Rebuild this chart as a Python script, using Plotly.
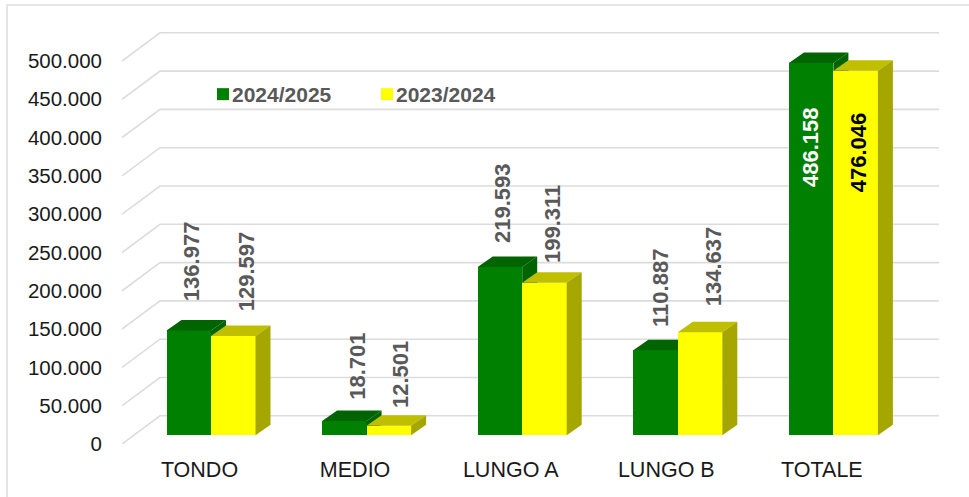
import plotly.graph_objects as go

categories = ["TONDO", "MEDIO", "LUNGO A", "LUNGO B", "TOTALE"]
series_a_name = "2024/2025"
series_b_name = "2023/2024"
series_a = [136977, 18701, 219593, 110887, 486158]
series_b = [129597, 12501, 199311, 134637, 476046]
y_ticks = [0, 50000, 100000, 150000, 200000, 250000, 300000, 350000, 400000, 450000, 500000]
y_tick_labels = ["0", "50.000", "100.000", "150.000", "200.000", "250.000",
                 "300.000", "350.000", "400.000", "450.000", "500.000"]

# label nudges in pixels
a_dx = [3, 13, 2, 5, 0]
a_dy = [28, 20, 23, 22, -125]
b_dx = [13, 11, 8, 13, 3]
b_dy = [24, 17, 19, 25, -123]

W, H = 969, 497
L, R, T, B = 122, 945, 25, 444      # plot area in px
CX0, CSTEP = 211.0, 155.6           # px of first group centre, px per category
UNITS_PER_PX = 500000 / 383.0
BAR_W = 44.5 / CSTEP
DX = 15 / CSTEP                     # bar depth
DY = 10.5 * UNITS_PER_PX
WALL_X0 = (L - CX0) / CSTEP
WALL_X1 = (160 - CX0) / CSTEP
WALL_X2 = (939 - CX0) / CSTEP
WALL_DY = 28.2 * UNITS_PER_PX
FLOOR = 8.7 * UNITS_PER_PX          # bar base sits above front floor edge

xr = [(L - CX0) / CSTEP, (R - CX0) / CSTEP]
span = (B - T) * UNITS_PER_PX
y1r = [0, span]
y2r = [-FLOOR, span - FLOOR]
idx = list(range(len(categories)))


def faces(vals, left):
    """polygons of top and side faces for one series"""
    tx, ty, sx, sy = [], [], [], []
    for i, v in zip(idx, vals):
        x0 = i - BAR_W if left else i
        x1 = x0 + BAR_W
        tx += [x0, x0 + DX, x1 + DX, x1, x0, None]
        ty += [v, v + DY, v + DY, v, v, None]
        sx += [x1, x1 + DX, x1 + DX, x1, x1, None]
        sy += [0, DY, v + DY, v, 0, None]
    return tx, ty, sx, sy


def poly(x, y, color, yaxis):
    return go.Scatter(x=x, y=y, mode="lines", fill="toself", fillcolor=color,
                      line=dict(width=0, color=color), yaxis=yaxis,
                      hoverinfo="skip", showlegend=False)


fig = go.Figure()

# wall grid lines
gx, gy = [], []
for v in y_ticks:
    gx += [WALL_X0, WALL_X1, WALL_X2, None]
    gy += [v, v + WALL_DY, v + WALL_DY, None]
fig.add_trace(go.Scatter(x=gx, y=gy, mode="lines", line=dict(color="#DCDCDC", width=1.6),
                         hoverinfo="skip", showlegend=False, yaxis="y"))

# green series
tx, ty, sx, sy = faces(series_a, True)
fig.add_trace(go.Bar(x=idx, y=series_a, width=BAR_W, offset=-BAR_W, name=series_a_name,
                     marker=dict(color="#008000", line=dict(width=0)), yaxis="y2"))
fig.add_trace(poly(tx, ty, "#006400", "y2"))
fig.add_trace(poly(sx, sy, "#006400", "y2"))

# yellow series
tx, ty, sx, sy = faces(series_b, False)
fig.add_trace(go.Bar(x=idx, y=series_b, width=BAR_W, offset=0, name=series_b_name,
                     marker=dict(color="#FFFF00", line=dict(width=0)), yaxis="y3"))
fig.add_trace(poly(tx, ty, "#BFBF00", "y3"))
fig.add_trace(poly(sx, sy, "#A6A600", "y3"))


def fmt(v):
    return f"{v:,}".replace(",", ".")


annotations = []
for i in idx:
    inside = series_a[i] > 400000
    annotations.append(dict(
        x=i - BAR_W / 2, y=series_a[i], yref="y2", xref="x", text=fmt(series_a[i]),
        textangle=-90, showarrow=False, xanchor="center", yanchor="bottom",
        xshift=a_dx[i], yshift=a_dy[i], borderpad=0,
        font=dict(family="Liberation Sans", size=22, weight="bold",
                  color="#FFFFFF" if inside else "#595959")))
    annotations.append(dict(
        x=i + BAR_W / 2, y=series_b[i], yref="y2", xref="x", text=fmt(series_b[i]),
        textangle=-90, showarrow=False, xanchor="center", yanchor="bottom",
        xshift=b_dx[i], yshift=b_dy[i], borderpad=0,
        font=dict(family="Liberation Sans", size=22, weight="bold",
                  color="#000000" if inside else "#595959")))

fig.update_layout(
    width=W, height=H, autosize=False,
    margin=dict(l=L, r=W - R, t=T, b=H - B, pad=0, autoexpand=False),
    paper_bgcolor="#FFFFFF", plot_bgcolor="rgba(0,0,0,0)",
    barmode="overlay", bargap=0,
    font=dict(family="Liberation Sans", size=20.5, color="#1A1A1A"),
    annotations=annotations,
    shapes=[dict(type="rect", xref="paper", yref="paper", layer="below",
                 x0=(7 - L) / (R - L), x1=(W + 20 - L) / (R - L),
                 y0=(B - H - 20) / (B - T), y1=(B - 5) / (B - T),
                 line=dict(color="#DDDDDD", width=1.5))],
    legend=dict(orientation="h", xref="paper", yref="paper",
                x=(203 - L) / (R - L), y=(B - 74) / (B - T), xanchor="left", yanchor="top",
                traceorder="normal", indentation=-11, entrywidthmode="pixels", entrywidth=130,
                bgcolor="rgba(0,0,0,0)",
                font=dict(family="Liberation Sans", size=21, weight="bold", color="#595959")),
    xaxis=dict(range=xr, tickmode="array", tickvals=[i - 11.5 / CSTEP for i in idx],
               ticktext=categories, showgrid=False, zeroline=False, showline=False,
               ticks="", ticklabelstandoff=10, tickangle=0,
               tickfont=dict(family="Liberation Sans", size=21.5, color="#1A1A1A")),
    yaxis=dict(range=y1r, tickmode="array", tickvals=y_ticks, ticktext=y_tick_labels,
               showgrid=False, zeroline=False, showline=False, ticks="",
               ticklabelstandoff=19,
               tickfont=dict(family="Liberation Sans", size=20.5, color="#1A1A1A")),
    yaxis2=dict(range=y2r, overlaying="y", visible=False),
    yaxis3=dict(range=y2r, overlaying="y", visible=False),
)

post = """
document.body.style.margin='0';document.body.style.overflow='hidden';
document.querySelectorAll('.legend .legendpoints').forEach(function(g){
  g.setAttribute('transform',(g.getAttribute('transform')||'')+' translate(11,0)');
});
"""
fig.write_html("out.html", post_script=post, config={"displayModeBar": False})
